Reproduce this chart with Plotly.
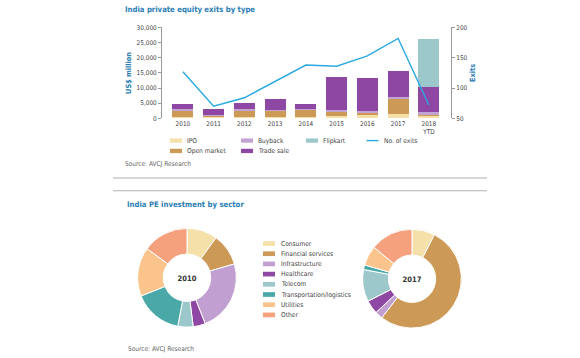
import plotly.graph_objects as go

W, H = 580, 358

# ---------------- data ----------------
years = ["2010", "2011", "2012", "2013", "2014", "2015", "2016", "2017", "2018<br>YTD"]
ipo = [500, 400, 300, 400, 450, 870, 1150, 1300, 650]
open_market = [1850, 550, 2250, 2050, 2350, 1160, 800, 5000, 550]
buyback = [650, 300, 500, 300, 200, 770, 350, 900, 970]
trade_sale = [1800, 1900, 2050, 3750, 1600, 10750, 10900, 8300, 8170]
flipkart = [0, 0, 0, 0, 0, 0, 0, 0, 16000]
exits = [127, 70, 84, 111, 138, 136, 153, 182, 72]
left_ticks = [0, 5000, 10000, 15000, 20000, 25000, 30000]
right_ticks = [50, 100, 150, 200]

sectors = ["Consumer", "Financial services", "Infrastructure", "Healthcare",
           "Telecom", "Transportation/logistics", "Utilities", "Other"]
share_2010 = [10, 10.5, 23.5, 4, 5, 16, 16, 15]
share_2017 = [7.5, 53, 2.5, 4.5, 10.5, 1.5, 6.5, 14]

# ---------------- styles ----------------
FONT = "Liberation Sans Narrow, DejaVu Sans Condensed, Roboto, sans-serif"
BLUE = "#2a7db5"
TXT = "#444444"
C_IPO, C_OPEN, C_BUY, C_TRADE, C_FLIP, C_EXIT = (
    "#f4e0a8", "#cc9a56", "#c3a3d3", "#8e47a3", "#9cc8cc", "#2aaae2")
sector_colors = ["#f4e0a8", "#cc9a56", "#c19fd1", "#8e47a3",
                 "#9cc8cc", "#4aa8a8", "#fbc48c", "#f5a17e"]


def px(x):
    return x / W


def py(y):
    return 1 - y / H


fig = go.Figure()

bar_series = [("IPO", ipo, C_IPO), ("Open market", open_market, C_OPEN),
              ("Buyback", buyback, C_BUY), ("Trade sale", trade_sale, C_TRADE),
              ("Flipkart", flipkart, C_FLIP)]
for name, vals, col in bar_series:
    fig.add_trace(go.Bar(x=years, y=vals, name=name, marker=dict(color=col, line=dict(width=0)),
                         xaxis="x", yaxis="y", showlegend=False))

fig.add_trace(go.Scatter(x=years, y=exits, name="No. of exits", mode="lines",
                         line=dict(color=C_EXIT, width=1.4), xaxis="x", yaxis="y2",
                         showlegend=False))

# donuts
for vals, cx, cy, label in [(share_2010, 187, 280, "2010"), (share_2017, 412, 281, "2017")]:
    r = 50.5
    fig.add_trace(go.Pie(labels=sectors, values=vals, sort=False, direction="clockwise",
                         rotation=0, hole=0.48, textinfo="none", showlegend=False,
                         marker=dict(colors=sector_colors, line=dict(color="white", width=1)),
                         domain=dict(x=[px(cx - r), px(cx + r)], y=[py(cy + r), py(cy - r)]),
                         title=dict(text=f"<b>{label}</b>", position="middle center",
                                    font=dict(family=FONT, size=7.5, color="#333"))))

tickfont = dict(family=FONT, size=6.4, color=TXT)
fig.update_layout(
    width=W, height=H, margin=dict(l=0, r=0, t=0, b=0),
    paper_bgcolor="white", plot_bgcolor="white",
    barmode="stack", bargap=0.32,
    font=dict(family=FONT, color=TXT),
    xaxis=dict(domain=[px(162), px(451)], range=[-0.68, 8.72], showgrid=False,
               showline=False, ticks="", tickfont=tickfont, anchor="y"),
    yaxis=dict(domain=[py(117), py(24)], range=[0, 30000], tickvals=left_ticks,
               tickformat=",", showgrid=False, zeroline=False, showline=True,
               linecolor="#9a9a9a", linewidth=1, ticks="outside", ticklen=3,
               tickcolor="#9a9a9a", tickfont=tickfont, anchor="x",
               title=dict(text="<b>US$ million</b>", font=dict(family=FONT, size=7.3, color=BLUE),
                          standoff=4)),
    yaxis2=dict(overlaying="y", side="right", range=[50, 200], tickvals=right_ticks,
                showgrid=False, zeroline=False, showline=True, linecolor="#9a9a9a",
                linewidth=1, ticks="outside", ticklen=3, tickcolor="#9a9a9a",
                tickfont=tickfont, anchor="x",
                title=dict(text="<b>Exits</b>", font=dict(family=FONT, size=7.3, color=BLUE),
                           standoff=3)),
)

shapes = []
annotations = []


def text(x, y, s, size=6.6, color=TXT, bold=False):
    annotations.append(dict(x=px(x), y=py(y), xref="paper", yref="paper",
                            text=f"<b>{s}</b>" if bold else s, showarrow=False,
                            xanchor="left", yanchor="middle",
                            font=dict(family=FONT, size=size, color=color)))


# titles
text(123, 5.5, "India private equity exits by type", size=7.7, color=BLUE, bold=True)
text(125, 205, "India PE investment by sector", size=7.7, color=BLUE, bold=True)
text(123, 164, "Source: AVCJ Research", size=6.5, color="#666")
text(126, 353, "Source: AVCJ Research", size=6.5, color="#666")

# separator lines
for yy in (178, 191):
    shapes.append(dict(type="line", xref="paper", yref="paper", x0=px(113), x1=px(487),
                       y0=py(yy), y1=py(yy), line=dict(color="#b0b0b0", width=1.2)))

# top legend (grid of series names)
legend_cells = [("IPO", C_IPO, 170, 139.7), ("Buyback", C_BUY, 241, 139.7),
                ("Flipkart", C_FLIP, 306, 139.7), ("Open market", C_OPEN, 170, 150.3),
                ("Trade sale", C_TRADE, 241, 150.3)]
for name, col, x0, yy in legend_cells:
    shapes.append(dict(type="rect", xref="paper", yref="paper", x0=px(x0), x1=px(x0 + 12),
                       y0=py(yy + 2.2), y1=py(yy - 2.2), fillcolor=col, line=dict(width=0)))
    text(x0 + 14.5, yy, name)
shapes.append(dict(type="line", xref="paper", yref="paper", x0=px(366.5), x1=px(378.5),
                   y0=py(139.7), y1=py(139.7), line=dict(color=C_EXIT, width=1.4)))
text(381.5, 139.7, "No. of exits")

# donut legend
for i, (name, col) in enumerate(zip(sectors, sector_colors)):
    yy = 245 + i * 10.43
    shapes.append(dict(type="rect", xref="paper", yref="paper", x0=px(263), x1=px(275),
                       y0=py(yy + 2.4), y1=py(yy - 2.4), fillcolor=col, line=dict(width=0)))
    text(279, yy, name)

fig.update_layout(shapes=shapes, annotations=annotations)
fig.write_html("out.html", config={"displayModeBar": False},
               post_script="document.body.style.margin='0px';")
